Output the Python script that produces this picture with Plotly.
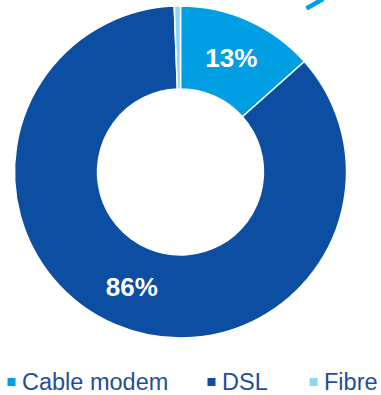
import plotly.graph_objects as go

# Broadband connections by access technology (share of lines)
technologies = ["Cable modem", "DSL", "Fibre"]
shares = [13.4, 86.0, 0.6]
colors = ["#009FE3", "#0B4EA2", "#8DD5F6"]
show_label = [True, True, False]

W, H = 381, 395
cx, cy, r = 180.5, 172.0, 166.0  # pie centre / radius in pixels
FONT = "Arial"

fig = go.Figure()
fig.add_trace(go.Pie(
    labels=technologies,
    values=shares,
    hole=0.5,
    sort=False,
    direction="clockwise",
    rotation=0,
    marker=dict(colors=colors, line=dict(color="white", width=1.5)),
    texttemplate=["%{percent:.0%}" if s else "" for s in show_label],
    textposition="inside",
    insidetextorientation="horizontal",
    textfont=dict(family=FONT, size=26, color="white", weight="bold"),
    hoverinfo="label+percent",
    showlegend=False,
    domain=dict(x=[(cx - r) / W, (cx + r) / W],
                y=[(H - cy - r) / H, (H - cy + r) / H]),
))

# Leader line leaving the cable-modem slice toward the top edge
fig.add_shape(type="line", xref="paper", yref="paper",
              x0=306.5 / W, y0=(H - 8.5) / H, x1=323 / W, y1=(H + 1) / H,
              line=dict(color=colors[0], width=4.5))

# Legend row: small squares followed by labels
legend_square_x = [7.5, 207.5, 309.5]
legend_y = 382
sq = 8
for name, col, lx in zip(technologies, colors, legend_square_x):
    fig.add_shape(type="rect", xref="paper", yref="paper",
                  x0=lx / W, x1=(lx + sq) / W,
                  y0=(H - legend_y - sq / 2) / H, y1=(H - legend_y + sq / 2) / H,
                  fillcolor=col, line=dict(width=0))
    fig.add_annotation(x=(lx + 12.5) / W, y=(H - legend_y) / H,
                       xref="paper", yref="paper", xanchor="left", yanchor="middle",
                       text=name, showarrow=False,
                       font=dict(family=FONT, size=23.5, color="#1F4E9C"))

fig.update_layout(
    width=W, height=H,
    margin=dict(l=0, r=0, t=0, b=0),
    paper_bgcolor="white",
    plot_bgcolor="white",
)

fig.write_html("out.html")
